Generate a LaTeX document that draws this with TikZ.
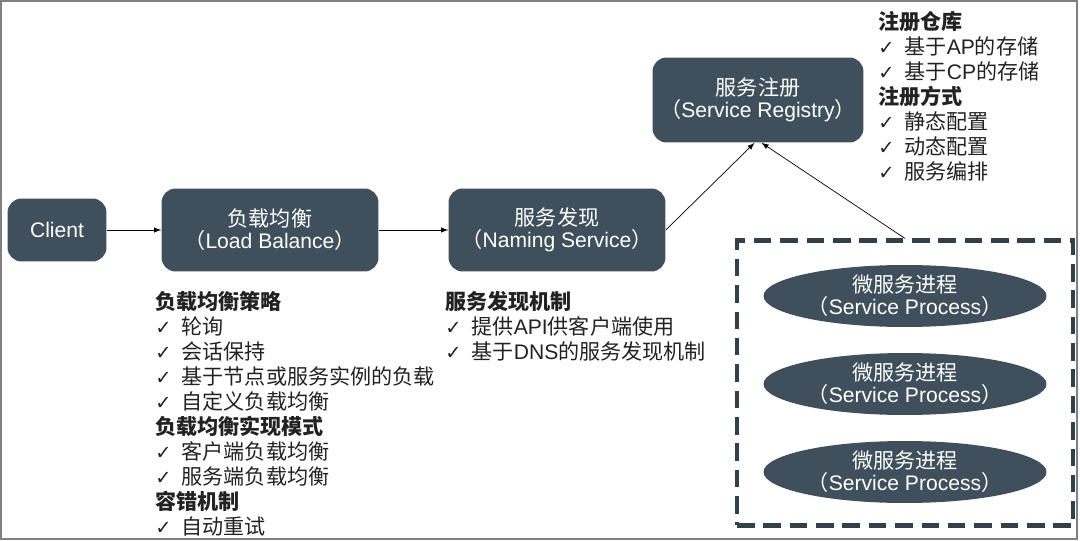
\documentclass[tikz,border=0pt]{standalone}
\usepackage{fontspec}
\setmainfont{Noto Sans CJK SC}
\newfontfamily\lat{Liberation Sans}
\newfontfamily\sym{DejaVu Sans}
\usetikzlibrary{arrows,shapes.geometric}
\definecolor{slate}{HTML}{3F505C}
\definecolor{ink}{HTML}{222222}
\newcommand{\chk}{\makebox[15pt][l]{\sym\fontsize{11}{12}\selectfont ✓}}

\begin{document}
\begin{tikzpicture}[x=0.02cm,y=-0.02cm,->,>=latex,thin,
  every node/.style={font=\fontsize{12}{12.5}\selectfont},
  box/.style={rectangle,rounded corners=8pt,fill=slate,text=white,align=center,inner sep=0pt},
  proc/.style={ellipse,fill=slate,text=white,align=center,inner sep=0pt,minimum width=5.66cm,minimum height=1.24cm},
  notes/.style={anchor=north west,align=left,inner sep=0pt,text=ink,font=\fontsize{12}{14.2}\selectfont}]
  \useasboundingbox (0,0) rectangle (1080,541);
  \draw[-,gray,line width=1pt] (1,1) rectangle (1077,539);
  \node[box,minimum width=1.98cm,minimum height=1.26cm] (client) at (57,230) {\lat Client};
  \node[box,minimum width=4.34cm,minimum height=1.66cm] (lb) at (270,230) {负载均衡\\（{\lat Load Balance}）};
  \node[box,minimum width=4.34cm,minimum height=1.66cm] (ns) at (557,230) {服务发现\\（{\lat Naming Service}）};
  \node[box,minimum width=4.22cm,minimum height=1.7cm] (reg) at (758,100) {服务注册\\（{\lat Service Registry}）};
  \node[-,draw=slate!80!black,line width=2.4pt,dash pattern=on 10pt off 5pt,minimum width=6.72cm,minimum height=5.7cm] (grp) at (905,383) {};
  \node[proc] (p1) at (905,296) {微服务进程\\（{\lat Service Process}）};
  \node[proc] (p2) at (905,384) {微服务进程\\（{\lat Service Process}）};
  \node[proc] (p3) at (905,472) {微服务进程\\（{\lat Service Process}）};
  \path (client) edge (lb);
  \path (lb) edge (ns);
  \path (ns.east) edge ([xshift=-2pt]reg.south);
  \path (grp.north) edge ([xshift=2pt]reg.south);
  % lists
  \node[notes] (lbnote) at (155,291) {\textbf{负载均衡策略}\\
    \chk 轮询\\
    \chk 会话保持\\
    \chk 基于节点或服务实例的负载\\
    \chk 自定义负载均衡\\
    \textbf{负载均衡实现模式}\\
    \chk 客户端负载均衡\\
    \chk 服务端负载均衡\\
    \textbf{容错机制}\\
    \chk 自动重试};
  \node[notes] (nsnote) at (445,291) {\textbf{服务发现机制}\\
    \chk 提供{\lat API}供客户端使用\\
    \chk 基于{\lat DNS}的服务发现机制};
  \node[notes] (regnote) at (878,11) {\textbf{注册仓库}\\
    \chk 基于{\lat AP}的存储\\
    \chk 基于{\lat CP}的存储\\
    \textbf{注册方式}\\
    \chk 静态配置\\
    \chk 动态配置\\
    \chk 服务编排};
\end{tikzpicture}
\end{document}
